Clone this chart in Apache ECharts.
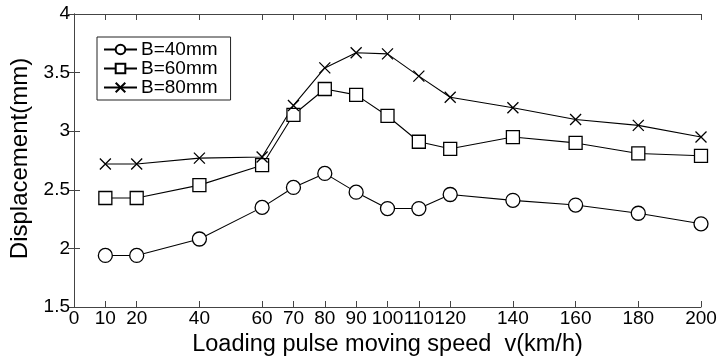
<!DOCTYPE html>
<html><head><meta charset="utf-8">
<script src="https://cdn.jsdelivr.net/npm/echarts@6/dist/echarts.min.js"></script>
<style>html,body{margin:0;padding:0;background:#fff}#c{width:720px;height:363px}</style>
</head><body><div id="c"></div>
<script>
var speeds = [10, 20, 40, 60, 70, 80, 90, 100, 110, 120, 140, 160, 180, 200];
var xTicks = [0, 10, 20, 40, 60, 70, 80, 90, 100, 110, 120, 140, 160, 180, 200];
var b40 = [1.94, 1.94, 2.08, 2.35, 2.52, 2.64, 2.48, 2.34, 2.34, 2.46, 2.41, 2.37, 2.30, 2.21];
var b60 = [2.43, 2.43, 2.54, 2.71, 3.14, 3.36, 3.31, 3.13, 2.91, 2.85, 2.95, 2.90, 2.81, 2.79];
var b80 = [2.72, 2.72, 2.77, 2.78, 3.22, 3.54, 3.67, 3.66, 3.47, 3.29, 3.20, 3.10, 3.05, 2.95];
var names = ['B=40mm', 'B=60mm', 'B=80mm'];

var FONT = 'Liberation Sans';
function pairs(v){ return speeds.map(function(s,i){ return [s, v[i]]; }); }
var crossPath = 'path://M0,0L10,10M10,0L0,10';
function mk(name, data, symbol, size){
  return {
    name: name, type: 'line', data: pairs(data), symbol: symbol, symbolSize: size,
    showAllSymbol: true,
    lineStyle: {color: '#000', width: 1.1},
    itemStyle: {color: symbol === crossPath ? 'rgba(0,0,0,0)' : '#fff', borderColor: '#000', borderWidth: 1.3},
    emphasis: {disabled: true}, animation: false
  };
}
var chart = echarts.init(document.getElementById('c'));
var axisLineStyle = {color: '#444', width: 1};
chart.setOption({
  animation: false,
  grid: {left: 74, right: 19, top: 14, bottom: 56},
  legend: {
    orient: 'vertical', left: 97, top: 37, padding: [3, 13, 3, 6],
    borderColor: '#222', borderWidth: 1, backgroundColor: '#fff',
    itemWidth: 33, itemHeight: 12, itemGap: 0,
    textStyle: {fontFamily: FONT, fontSize: 19, lineHeight: 19, color: '#000', padding: [0,0,0,-1]},
    data: names
  },
  xAxis: [{
    type: 'value', min: 0, max: 200, position: 'bottom',
    name: 'Loading pulse moving speed  v(km/h)', nameLocation: 'middle', nameGap: 24,
    nameTextStyle: {fontFamily: FONT, fontSize: 23.5, color: '#000'},
    axisLine: {show: true, lineStyle: axisLineStyle},
    axisTick: {show: true, inside: true, length: 6, customValues: xTicks, lineStyle: axisLineStyle},
    axisLabel: {customValues: xTicks, fontFamily: FONT, fontSize: 19, color: '#000', margin: 2, showMinLabel: true, showMaxLabel: true},
    splitLine: {show: false}
  }, {
    type: 'value', min: 0, max: 200, position: 'top',
    axisLine: {show: true, lineStyle: axisLineStyle},
    axisTick: {show: true, inside: true, length: 6, customValues: xTicks, lineStyle: axisLineStyle},
    axisLabel: {show: false}, splitLine: {show: false}
  }],
  yAxis: [{
    type: 'value', min: 1.5, max: 4, interval: 0.5, position: 'left',
    name: 'Displacement(mm)', nameLocation: 'middle', nameGap: 35,
    nameTextStyle: {fontFamily: FONT, fontSize: 24, color: '#000', padding: [0, 0, 0, 4]},
    axisLine: {show: true, lineStyle: axisLineStyle},
    axisTick: {show: true, inside: true, length: 6, lineStyle: axisLineStyle},
    axisLabel: {fontFamily: FONT, fontSize: 19, color: '#000', margin: 4},
    splitLine: {show: false}
  }, {
    type: 'value', min: 1.5, max: 4, interval: 0.5, position: 'right',
    axisLine: {show: true, lineStyle: axisLineStyle},
    axisTick: {show: true, inside: true, length: 6, lineStyle: axisLineStyle},
    axisLabel: {show: false}, splitLine: {show: false}
  }],
  series: [
    mk(names[0], b40, 'circle', 14),
    mk(names[1], b60, 'rect', 13),
    mk(names[2], b80, crossPath, 11)
  ]
});
</script></body></html>
